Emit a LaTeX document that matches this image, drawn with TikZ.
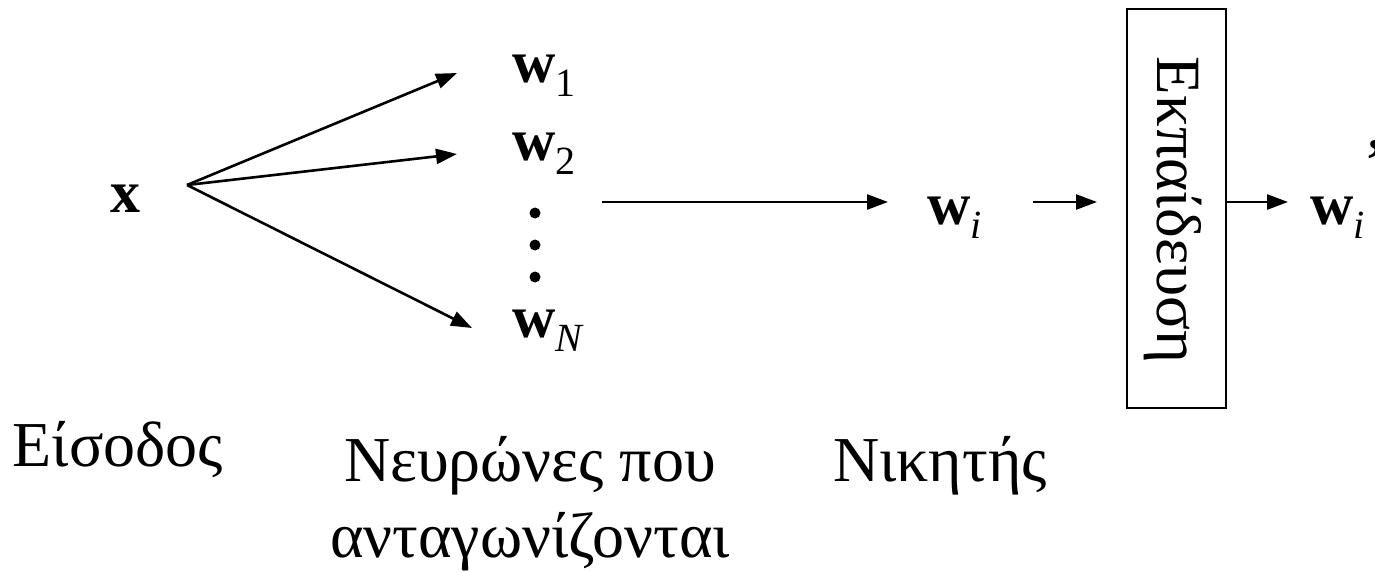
\documentclass[tikz,border=0pt]{standalone}
\usepackage{fontspec}
\setmainfont{Liberation Serif}
\usetikzlibrary{arrows.meta}

% type sizes used in the figure
\newcommand\labelsize{\fontsize{64}{76}\selectfont}
\newcommand\symsize{\fontsize{60}{60}\selectfont}
\newcommand\subsize{\fontsize{40}{40}\selectfont}
% bold weight vector with a lowered index
\newcommand\wvec[1]{\textbf{w}\raisebox{-0.24em}{\subsize #1}}

\tikzset{
  sym/.style={inner sep=0pt, anchor=base west, font=\symsize},
  caption/.style={inner sep=0pt, font=\labelsize},
  flow/.style={line width=2.6pt, -{Triangle[length=21pt,width=15pt]}},
  dot/.style={circle, fill=black, inner sep=0pt, minimum size=11pt},
  trainbox/.style={draw, line width=1.8pt, minimum width=99pt, minimum height=399pt, inner sep=0pt}
}

\begin{document}
\begin{tikzpicture}[x=1pt, y=-1pt]
  \useasboundingbox (0,0) rectangle (1375,571);

  % input vector and competing neurons
  \node[sym] (x)  at (110,212) {\textbf{x}};
  \node[sym] (w1) at (512,82)  {\wvec{1}};
  \node[sym] (w2) at (512,160) {\wvec{2}};
  \node[dot] (d1) at (535,213) {};
  \node[dot] (d2) at (535,245) {};
  \node[dot] (d3) at (535,277) {};
  \node[sym] (wN) at (512,337) {\wvec{\textit{N}}};

  % winner, training block and updated winner
  \node[sym] (wi)  at (927,224) {\wvec{\textit{i}}};
  \node[trainbox] (train) at (1176.5,208.5) {};
  \node[inner sep=0pt, anchor=base, rotate=-90, font=\fontsize{63}{63}\selectfont]
       (traintext) at (1157,210) {Εκπαίδευση};
  \node[sym] (wip) at (1310,224) {\wvec{\textit{i}}\hspace{1pt}\raisebox{0.72em}{\textbf{’}}};

  % connector end points
  \coordinate (fan) at (187,185);
  \coordinate (t1)  at (457,73);
  \coordinate (t2)  at (457,154);
  \coordinate (t3)  at (472,328);
  \coordinate (s4)  at (602,202);
  \coordinate (t4)  at (888,202);
  \coordinate (s5)  at (1033,202);
  \coordinate (t5)  at (1097,202);
  \coordinate (t6)  at (1288,202);

  \draw[flow] (fan) -- (t1);
  \draw[flow] (fan) -- (t2);
  \draw[flow] (fan) -- (t3);
  \draw[flow] (s4) -- (t4);
  \draw[flow] (s5) -- (t5);
  \draw[flow] (train.east |- t6) -- (t6);

  % captions
  \node[caption, anchor=base] (in)  at (118,466) {Είσοδος};
  \node[caption, anchor=base, align=center] (cmp) at (530,557)
       {Νευρώνες που\\ανταγωνίζονται};
  \node[caption, anchor=base] (win) at (940,481) {Νικητής};
\end{tikzpicture}
\end{document}
